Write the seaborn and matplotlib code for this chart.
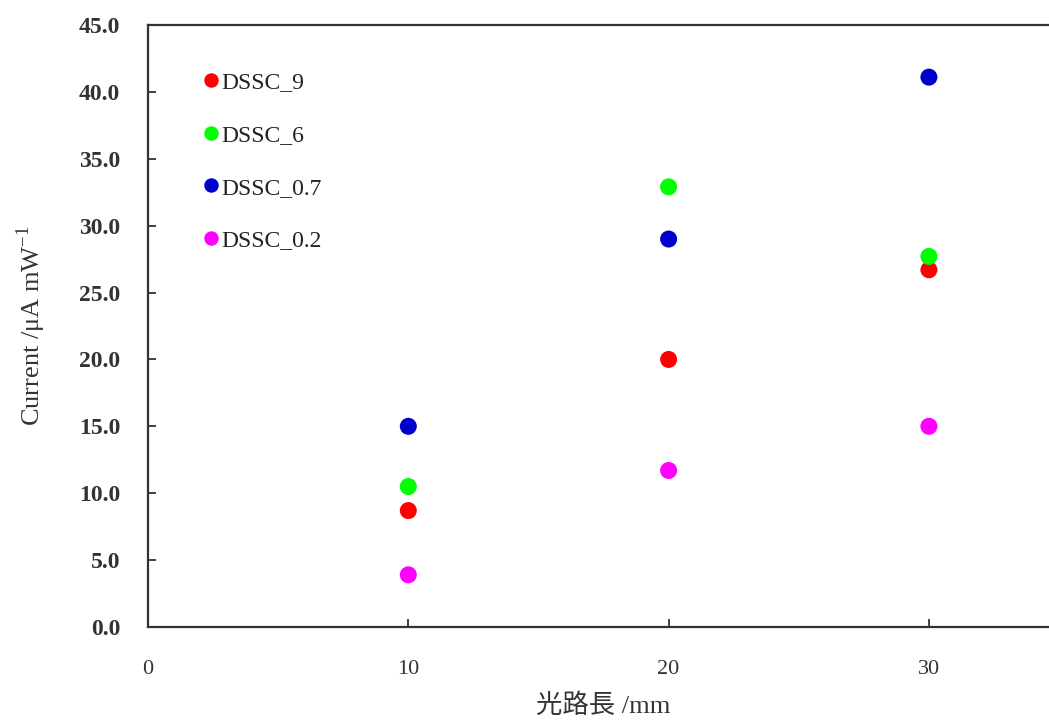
import matplotlib
matplotlib.use("Agg")
import matplotlib.pyplot as plt
import seaborn as sns
import pandas as pd

path_length = [10, 20, 30]
dssc_9 = [8.7, 20.0, 26.7]
dssc_6 = [10.5, 32.9, 27.7]
dssc_07 = [15.0, 29.0, 41.1]
dssc_02 = [3.9, 11.7, 15.0]
series_names = ["DSSC_9", "DSSC_6", "DSSC_0.7", "DSSC_0.2"]
colors = ["#FF0000", "#00FF00", "#0000CC", "#FF00FF"]
y_ticks = [0, 5, 10, 15, 20, 25, 30, 35, 40, 45]
x_ticks = [0, 10, 20, 30]

sns.set_theme(style="white")
plt.rcParams['font.family'] = ['Liberation Serif', 'Noto Sans CJK JP', 'DejaVu Sans']
plt.rcParams['mathtext.fontset'] = 'custom'
plt.rcParams['mathtext.rm'] = 'Liberation Serif'

rows = []
for name, vals in zip(series_names, [dssc_9, dssc_6, dssc_07, dssc_02]):
    for x, y in zip(path_length, vals):
        rows.append({"x": x, "y": y, "series": name})
df = pd.DataFrame(rows)

fig = plt.figure(figsize=(10.49, 7.22), dpi=100)
ax = fig.add_axes([0.1411, 0.1316, 0.8685, 0.8338])
sns.scatterplot(data=df, x="x", y="y", hue="series", hue_order=series_names,
                palette=colors, s=150, edgecolor="none", ax=ax, zorder=3)

ax.set_xlim(0, 35)
ax.set_ylim(0, 45)
ax.set_xticks(x_ticks)
ax.set_yticks(y_ticks)
ax.set_yticklabels([f"{v:.1f}" for v in y_ticks])
ax.tick_params(axis="both", direction="in", length=6, width=1.2, colors="#222222",
               labelcolor="#333333", bottom=True, left=True)
ax.tick_params(axis="y", pad=20, labelsize=17)
ax.tick_params(axis="x", pad=24, labelsize=16)
for lab in ax.get_yticklabels():
    lab.set_fontweight("bold")
for sp in ax.spines.values():
    sp.set_color("#333333")
    sp.set_linewidth(1.6)

ax.set_xlabel("光路長 /mm", fontsize=19, color="#333333", labelpad=10)
ax.set_ylabel(r"Current /μA mW$^{-1}$", fontsize=19, color="#333333", labelpad=22)

leg = ax.legend(loc="upper left", bbox_to_anchor=(0.033, 0.938), frameon=False,
                fontsize=17, labelspacing=1.32, handletextpad=-0.55, markerscale=0.85,
                borderaxespad=0)
for t in leg.get_texts():
    t.set_color("#222222")

fig.savefig("out.png", dpi=100)
